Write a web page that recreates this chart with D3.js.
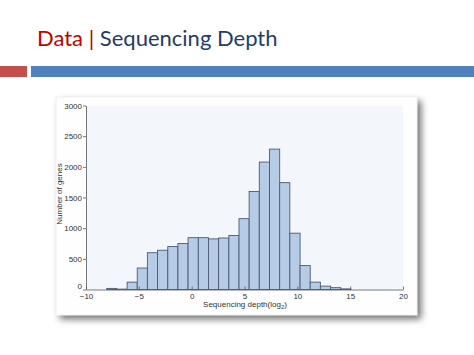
<!DOCTYPE html>
<html>
<head>
<meta charset="utf-8">
<script src="https://cdn.jsdelivr.net/npm/d3@7"></script>
<style>
  html, body { margin: 0; padding: 0; background: #ffffff; }
  svg { display: block; }
</style>
</head>
<body>
<div id="chart"></div>
<script>
// ---- data ----
const binLeft  = [-8.04, -7.08, -6.11, -5.15, -4.19, -3.23, -2.26, -1.30, -0.34, 0.63, 1.59, 2.55,
                  3.52, 4.48, 5.44, 6.40, 7.37, 8.33, 9.29, 10.26, 11.22, 12.18, 13.15, 14.11];
const binRight = [-7.08, -6.11, -5.15, -4.19, -3.23, -2.26, -1.30, -0.34, 0.63, 1.59, 2.55, 3.52,
                  4.48, 5.44, 6.40, 7.37, 8.33, 9.29, 10.26, 11.22, 12.18, 13.15, 14.11, 15.07];
const geneCounts = [18, 6, 120, 350, 600, 640, 700, 750, 845, 845, 825, 840,
                    880, 1155, 1598, 2078, 2289, 1742, 918, 390, 120, 55, 30, 10];
const xTicks = [-10, -5, 0, 5, 10, 15, 20];
const yTicks = [0, 500, 1000, 1500, 2000, 2500, 3000];

const W = 474, H = 355;
const svg = d3.select("#chart").append("svg").attr("width", W).attr("height", H);

// ---- title ----
const title = svg.append("text").attr("x", 37).attr("y", 46)
  .style("font-family", "Lato, 'Open Sans', sans-serif").style("font-size", "22px");
title.append("tspan").attr("fill", "#c00000").text("Data ");
title.append("tspan").attr("fill", "#c00000").text("| ");
title.append("tspan").attr("fill", "#1f3c6b").text("Sequencing Depth");

svg.append("rect").attr("x", 0).attr("y", 66).attr("width", 27).attr("height", 11).attr("fill", "#c0504d");
svg.append("rect").attr("x", 31).attr("y", 66).attr("width", W - 31).attr("height", 11).attr("fill", "#4f81bd");

// ---- panel with shadow ----
const defs = svg.append("defs");
const f = defs.append("filter").attr("id", "sh").attr("x", "-10%").attr("y", "-10%")
  .attr("width", "125%").attr("height", "125%");
f.append("feDropShadow").attr("dx", 4).attr("dy", 4).attr("stdDeviation", 3.5)
  .attr("flood-color", "#000").attr("flood-opacity", 0.55);

svg.append("rect").attr("x", 56).attr("y", 97).attr("width", 361).attr("height", 218)
  .attr("fill", "#fefefe").attr("stroke", "#e4e4e4").attr("stroke-width", 0.5)
  .attr("filter", "url(#sh)");

// ---- scales ----
const x = d3.scaleLinear().domain([-10, 20]).range([86, 403]);
const y = d3.scaleLinear().domain([0, 3000]).range([289.5, 105.5]);

svg.append("rect").attr("x", x(-10)).attr("y", y(3000))
  .attr("width", x(20) - x(-10)).attr("height", y(0) - y(3000)).attr("fill", "#f3f7fc");

// ---- bars ----
svg.append("g").selectAll("rect").data(geneCounts).join("rect")
  .attr("x", (d, i) => x(binLeft[i]))
  .attr("width", (d, i) => x(binRight[i]) - x(binLeft[i]))
  .attr("y", d => y(d))
  .attr("height", d => y(0) - y(d))
  .attr("fill", "#b6cbe6")
  .attr("stroke", "#4b5b70")
  .attr("stroke-width", 0.9);

// ---- axes ----
const axFont = "Arial, 'Liberation Sans', sans-serif";
const xAxis = svg.append("g").attr("transform", `translate(0,${y(0)})`)
  .call(d3.axisBottom(x).tickValues(xTicks).tickSize(-3).tickSizeOuter(0).tickPadding(4)
    .tickFormat(d => d < 0 ? "\u2212" + Math.abs(d) : String(d)));
const yAxis = svg.append("g").attr("transform", `translate(${x(-10)},0)`)
  .call(d3.axisLeft(y).tickValues(yTicks).tickSize(3).tickSizeOuter(0).tickPadding(1)
    .tickFormat(d3.format("d")));
[xAxis, yAxis].forEach(g => {
  g.select(".domain").attr("stroke", "#555").attr("stroke-width", 0.8);
  g.selectAll(".tick line").attr("stroke", "#555").attr("stroke-width", 0.8);
  g.selectAll(".tick text").attr("fill", "#333").style("font-family", axFont).style("font-size", "8px");
});
// zero label sits slightly above the axis as in the reference
yAxis.selectAll(".tick text").filter(d => d === 0).attr("dy", "-0.1em");

// axis labels
svg.append("text").attr("x", 245).attr("y", 307).attr("text-anchor", "middle")
  .attr("fill", "#333").style("font-family", axFont).style("font-size", "8px")
  .call(t => {
    t.append("tspan").text("Sequencing depth(log");
    t.append("tspan").attr("dy", 2).style("font-size", "6px").text("2");
    t.append("tspan").attr("dy", -2).text(")");
  });
svg.append("text").attr("transform", "translate(62,194) rotate(-90)").attr("text-anchor", "middle")
  .attr("fill", "#333").style("font-family", axFont).style("font-size", "8px")
  .text("Number of genes");
</script>
</body>
</html>
